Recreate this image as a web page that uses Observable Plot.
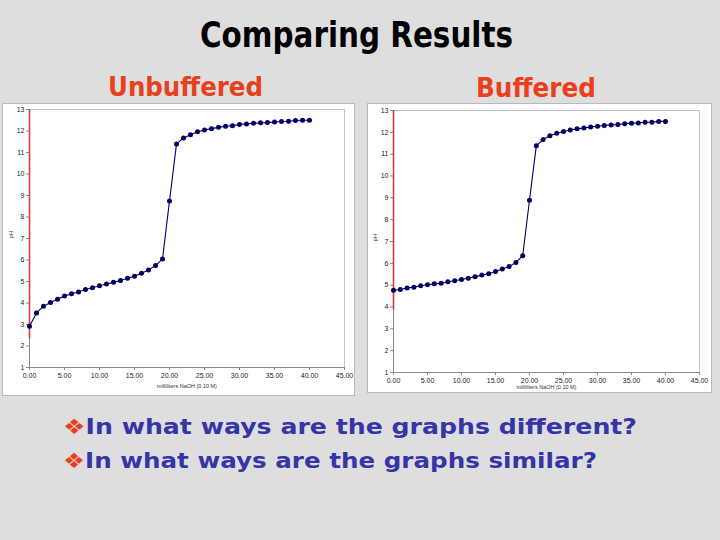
<!DOCTYPE html>
<html><head><meta charset="utf-8">
<script src="https://cdn.jsdelivr.net/npm/d3@7"></script>
<script src="https://cdn.jsdelivr.net/npm/@observablehq/plot@0.6"></script>
<style>
html,body{margin:0;padding:0;background:#dedede;}
#page{position:relative;width:720px;height:540px;overflow:hidden;background:#dedede;}
.box{position:absolute;background:#fff;border:1px solid #b9b9b9;box-sizing:border-box;}
.box svg{display:block;}
#overlay{position:absolute;left:0;top:0;}
.hd{font-family:"Comic Sans MS","DejaVu Sans",sans-serif;font-weight:bold;}
</style></head><body><div id="page">
<svg id="overlay" width="720" height="540">
  <text class="hd" x="200" y="47" font-size="36" fill="#000" textLength="313" lengthAdjust="spacingAndGlyphs">Comparing Results</text>
  <text class="hd" x="108" y="96" font-size="27" fill="#e8401c" textLength="155" lengthAdjust="spacingAndGlyphs">Unbuffered</text>
  <text class="hd" x="476" y="97" font-size="27" fill="#e8401c" textLength="120" lengthAdjust="spacingAndGlyphs">Buffered</text>
  <text class="hd" x="63" y="434" font-size="21" textLength="574" lengthAdjust="spacingAndGlyphs"><tspan fill="#e8401c">❖</tspan><tspan fill="#3535a8">In what ways are the graphs different?</tspan></text>
  <text class="hd" x="63" y="468" font-size="21" textLength="534" lengthAdjust="spacingAndGlyphs"><tspan fill="#e8401c">❖</tspan><tspan fill="#3535a8">In what ways are the graphs similar?</tspan></text>
</svg>
<div id="left" class="box" style="left:2px;top:103px;width:353px;height:293px"></div>
<div id="right" class="box" style="left:367px;top:103px;width:345px;height:290px"></div>
</div>
<script>
// mL of 0.10 M NaOH added
const volume = [0,1,2,3,4,5,6,7,8,9,10,11,12,13,14,15,16,17,18,19,20,21,22,23,24,25,26,27,28,29,30,31,32,33,34,35,36,37,38,39,40];
const phUnbuffered = [2.92,3.54,3.85,4.02,4.18,4.32,4.43,4.51,4.63,4.71,4.80,4.88,4.96,5.05,5.15,5.25,5.38,5.54,5.74,6.05,8.75,11.40,11.68,11.83,11.96,12.05,12.11,12.17,12.22,12.25,12.30,12.33,12.36,12.38,12.39,12.42,12.44,12.45,12.49,12.50,12.50];
const phBuffered = [4.77,4.80,4.87,4.91,4.97,5.02,5.06,5.09,5.16,5.20,5.26,5.32,5.39,5.46,5.52,5.63,5.74,5.86,6.04,6.35,8.89,11.38,11.67,11.84,11.96,12.04,12.11,12.16,12.20,12.25,12.28,12.31,12.34,12.36,12.39,12.42,12.43,12.46,12.46,12.50,12.50];
const xTicks = [0,5,10,15,20,25,30,35,40,45];
const yTicks = [1,2,3,4,5,6,7,8,9,10,11,12,13];
// red vertical marker at 0 mL: [lower pH, upper pH]
const markerUnbuffered = [2.33, 13];
const markerBuffered = [3.86, 13];
const xLabel = "milliliters NaOH (0.10 M)";
const yLabel = "pH";

function chart(ph, marker, opts) {
  const data = volume.map((v, i) => ({v, ph: ph[i]}));
  return Plot.plot({
    width: opts.width, height: opts.height,
    marginLeft: opts.ml, marginRight: opts.mr, marginTop: opts.mt, marginBottom: opts.mb,
    style: {background: "white", fontFamily: "'Liberation Sans', Arial, sans-serif", fontSize: "7px", color: "#222"},
    x: {domain: [0, 45]},
    y: {domain: [1, 13]},
    marks: [
      Plot.frame({stroke: "#c4c4c4"}),
      Plot.ruleY([1], {stroke: "#8a8a8a"}),
      Plot.ruleX([0], {stroke: "#8a8a8a"}),
      Plot.axisX({ticks: xTicks, tickFormat: d => d.toFixed(2), tickSize: 3, tickPadding: opts.xpad, label: null, stroke: "#888", fill: "#222"}),
      Plot.axisY({ticks: yTicks, tickFormat: d => String(d), tickSize: 3, tickPadding: 2, label: null, stroke: "#888", fill: "#222"}),
      Plot.ruleX([{x: 0, y1: marker[0], y2: marker[1]}], {x: "x", y1: "y1", y2: "y2", stroke: "#d83a48", strokeWidth: 1.6}),
      Plot.line(data, {x: "v", y: "ph", stroke: "#000060", strokeWidth: 1.1}),
      Plot.dot(data, {x: "v", y: "ph", r: 2.5, fill: "#000060", stroke: "none"}),
      Plot.text([yLabel], {frameAnchor: "left", dx: opts.ylx, rotate: -90, text: d => d, fontSize: 6, fill: "#333"}),
      Plot.text([xLabel], {frameAnchor: "bottom", dy: opts.xly, text: d => d, fontSize: 5.5, fill: "#333"})
    ]
  });
}

document.getElementById("left").appendChild(chart(phUnbuffered, markerUnbuffered,
  {width: 351, height: 291, ml: 26, mr: 10, mt: 5, mb: 28, xpad: 3, ylx: -18, xly: 20}));
document.getElementById("right").appendChild(chart(phBuffered, markerBuffered,
  {width: 343, height: 288, ml: 25, mr: 12, mt: 6, mb: 20, xpad: 3, ylx: -18, xly: 16}));
</script>
</body></html>
